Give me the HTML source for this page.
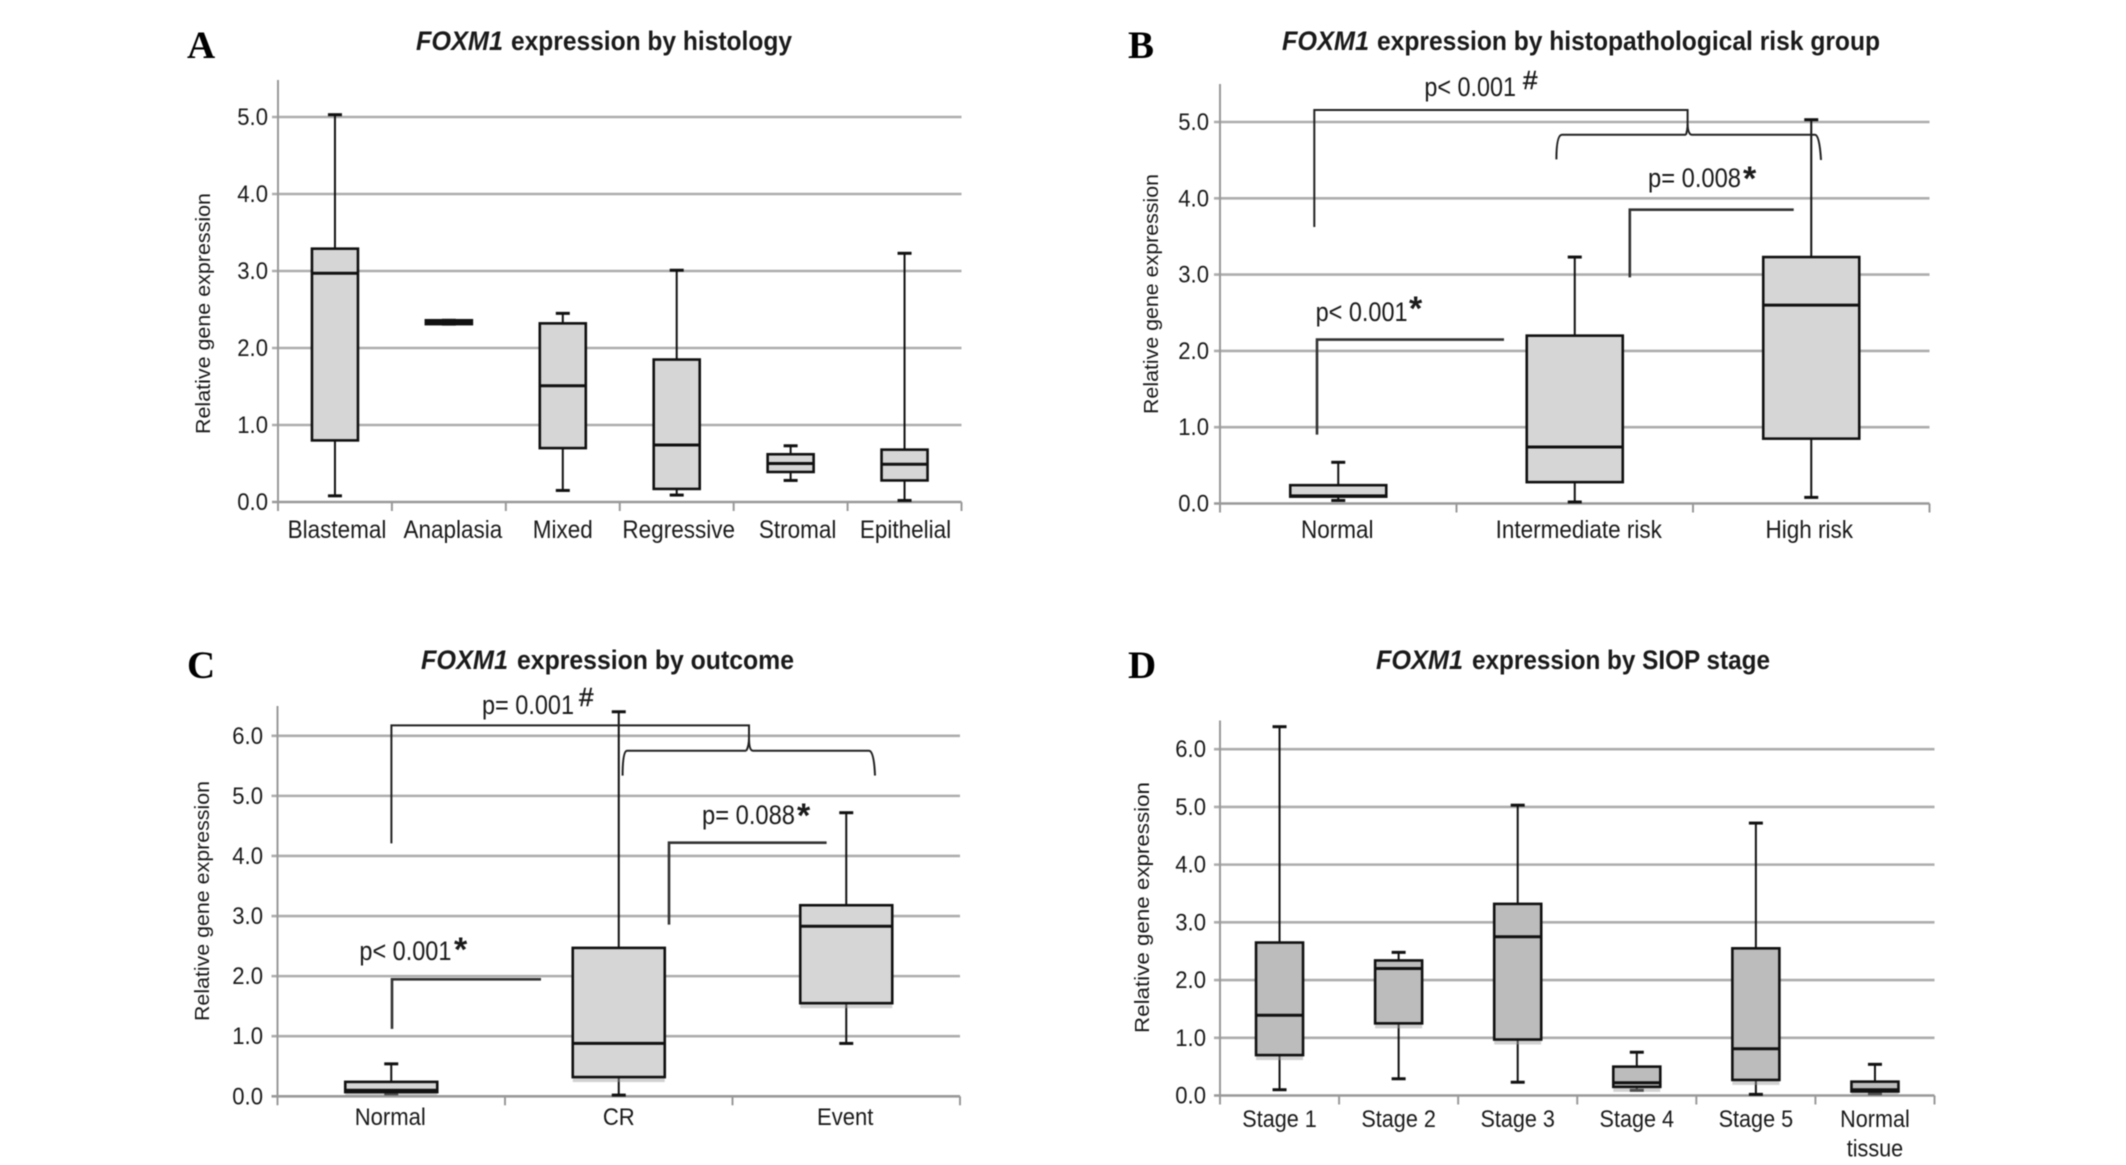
<!DOCTYPE html>
<html lang="en">
<head>
<meta charset="utf-8">
<title>FOXM1 expression box plots</title>
<style>
html,body{margin:0;padding:0;background:#fff;width:2126px;height:1165px;overflow:hidden}
svg{display:block;filter:blur(.45px)}
text{font-family:"Liberation Sans",sans-serif;fill:#1a1a1a}
.letter{font-family:"Liberation Serif",serif;font-weight:bold;font-size:39px;fill:#000}
.title{font-size:27px;font-weight:bold}
.pv{font-size:27px}
.mk{font-size:34px;font-weight:bold}
.hs{font-size:26px;stroke:#1a1a1a;stroke-width:.5}
.br{fill:none;stroke:#222;stroke-width:2}
.brk{fill:none;stroke:#333;stroke-width:2.6}
</style>
</head>
<body>
<svg id="figure" xmlns="http://www.w3.org/2000/svg" width="2126" height="1165" viewBox="0 0 2126 1165">
  <rect width="2126" height="1165" fill="#fff"/>

  <text class="letter" x="187" y="58">A</text>
  <text class="letter" x="1128" y="58">B</text>
  <text class="letter" x="187" y="678">C</text>
  <text class="letter" x="1128" y="678">D</text>

  <text class="title" x="416" y="50" font-style="italic" textLength="87" lengthAdjust="spacingAndGlyphs">FOXM1</text>
  <text class="title" x="511" y="50" textLength="281" lengthAdjust="spacingAndGlyphs">expression by histology</text>
  <text class="title" x="1282" y="50" font-style="italic" textLength="87" lengthAdjust="spacingAndGlyphs">FOXM1</text>
  <text class="title" x="1377" y="50" textLength="503" lengthAdjust="spacingAndGlyphs">expression by histopathological risk group</text>
  <text class="title" x="421" y="669" font-style="italic" textLength="87" lengthAdjust="spacingAndGlyphs">FOXM1</text>
  <text class="title" x="517" y="669" textLength="277" lengthAdjust="spacingAndGlyphs">expression by outcome</text>
  <text class="title" x="1376" y="669" font-style="italic" textLength="87" lengthAdjust="spacingAndGlyphs">FOXM1</text>
  <text class="title" x="1472" y="669" textLength="298" lengthAdjust="spacingAndGlyphs">expression by SIOP stage</text>

  <g id="charts"></g>

  <g transform="translate(-1,0)">
    <path class="br" d="M1315.3 227V110H1688.6V124Q1688.6 130 1687 134.8"/>
    <path class="br" d="M1557.4 159.4Q1557.4 134.8 1563 134.8H1687M1688.6 124Q1689 134.8 1693 134.8H1816Q1820.5 134.8 1822 160"/>
    <path class="brk" d="M1630.8 277.4V209.7H1794.7"/>
    <path class="brk" d="M1318 434.6V339.6H1505"/>
    <text class="pv" x="1425.4" y="96" textLength="91.6" lengthAdjust="spacingAndGlyphs">p&lt; 0.001</text>
    <text class="hs" x="1524" y="89">#</text>
    <text class="pv" x="1649" y="187" textLength="93" lengthAdjust="spacingAndGlyphs">p= 0.008</text>
    <text class="mk" x="1744" y="190">*</text>
    <text class="pv" x="1316.6" y="321" textLength="92" lengthAdjust="spacingAndGlyphs">p&lt; 0.001</text>
    <text class="mk" x="1410" y="320">*</text>
  </g>

  <g transform="translate(-1,0)">
    <path class="br" d="M392.4 843.4V725.4H750V738Q750 746 747.3 750.7"/>
    <path class="br" d="M623.6 775.6Q623.6 750.7 628 750.7H747.3M750 738Q750 750.7 754 750.7H870Q875 750.7 876 775.6"/>
    <path class="brk" d="M670 924.6V842.7H827.6"/>
    <path class="brk" d="M393 1028.9V979.3H542"/>
    <text class="pv" x="483" y="714" textLength="92" lengthAdjust="spacingAndGlyphs">p= 0.001</text>
    <text class="hs" x="580" y="706">#</text>
    <text class="pv" x="703" y="824" textLength="93" lengthAdjust="spacingAndGlyphs">p= 0.088</text>
    <text class="mk" x="798" y="827">*</text>
    <text class="pv" x="360.4" y="960" textLength="92" lengthAdjust="spacingAndGlyphs">p&lt; 0.001</text>
    <text class="mk" x="455" y="961">*</text>
  </g>
</svg>

<script>
/* ---------- Panel A: histology ---------- */
const histologyCategories = ["Blastemal", "Anaplasia", "Mixed", "Regressive", "Stromal", "Epithelial"];
const histologyLow    = [0.08, 2.31, 0.15, 0.09, 0.28, 0.02];
const histologyQ1     = [0.80, 2.31, 0.70, 0.17, 0.39, 0.28];
const histologyMedian = [2.97, 2.33, 1.51, 0.74, 0.50, 0.49];
const histologyQ3     = [3.29, 2.36, 2.32, 1.85, 0.62, 0.68];
const histologyHigh   = [5.03, 2.36, 2.45, 3.01, 0.73, 3.23];

/* ---------- Panel B: risk group ---------- */
const riskCategories = ["Normal", "Intermediate risk", "High risk"];
const riskLow    = [0.04, 0.02, 0.08];
const riskQ1     = [0.09, 0.28, 0.85];
const riskMedian = [0.10, 0.74, 2.60];
const riskQ3     = [0.24, 2.20, 3.23];
const riskHigh   = [0.54, 3.23, 5.03];

/* ---------- Panel C: outcome ---------- */
const outcomeCategories = ["Normal", "CR", "Event"];
const outcomeLow    = [0.04, 0.02, 0.88];
const outcomeQ1     = [0.07, 0.32, 1.55];
const outcomeMedian = [0.10, 0.88, 2.83];
const outcomeQ3     = [0.24, 2.47, 3.18];
const outcomeHigh   = [0.54, 6.40, 4.72];

/* ---------- Panel D: SIOP stage ---------- */
const stageCategories = ["Stage 1", "Stage 2", "Stage 3", "Stage 4", "Stage 5", "Normal|tissue"];
const stageLow    = [0.10, 0.29, 0.23, 0.09, 0.02, 0.03];
const stageQ1     = [0.70, 1.25, 0.97, 0.15, 0.27, 0.07];
const stageMedian = [1.39, 2.20, 2.75, 0.22, 0.81, 0.10];
const stageQ3     = [2.65, 2.34, 3.32, 0.50, 2.55, 0.24];
const stageHigh   = [6.39, 2.48, 5.03, 0.75, 4.72, 0.54];

/* ---------- Shared tick labels ---------- */
const ticksToFive = ["0.0", "1.0", "2.0", "3.0", "4.0", "5.0"];
const ticksToSix  = ["0.0", "1.0", "2.0", "3.0", "4.0", "5.0", "6.0"];

const NS = "http://www.w3.org/2000/svg";
const root = document.getElementById("charts");
const NARROW = 0.9;

function mk(parent, tag, attrs, text) {
  const node = document.createElementNS(NS, tag);
  for (const k in attrs) node.setAttribute(k, attrs[k]);
  if (text !== undefined) node.textContent = text;
  parent.appendChild(node);
  return node;
}

function squeeze(node, factor) {
  const len = node.getComputedTextLength();
  node.setAttribute("textLength", len * factor);
  node.setAttribute("lengthAdjust", "spacingAndGlyphs");
}

function drawPanel(id, cfg, cats, lows, q1s, meds, q3s, highs, ticks) {
  const yMaxValue = parseFloat(ticks[ticks.length - 1]);
  const y = v => cfg.y0 - (v / yMaxValue) * (cfg.y0 - cfg.yMax);
  const slot = (cfg.x1 - cfg.x0) / cats.length;
  const x = i => cfg.x0 + slot * (i + 0.5);

  const g = mk(root, "g", {});
  
  

  ticks.forEach(t => {
    const v = parseFloat(t);
    if (v > 0) {
      const grid = mk(g, "line", {x1: cfg.x0 - 6, x2: cfg.x1, y1: y(v), y2: y(v), stroke: "#adadad", "stroke-width": 2.6});
      
      
    }
    const label = mk(g, "text", {x: cfg.tickX, y: y(v) + 8, "text-anchor": "end", "font-size": 24}, t);
    
    
    squeeze(label, 0.92);
  });

  const yAxis = mk(g, "line", {x1: cfg.x0, x2: cfg.x0, y1: cfg.axisTop, y2: cfg.y0 + 9, stroke: "#999", "stroke-width": 2});
  
  

  const xAxis = mk(g, "line", {x1: cfg.x0 - 6, x2: cfg.x1, y1: cfg.y0, y2: cfg.y0, stroke: "#999", "stroke-width": 2.6});
  
  

  for (let i = 1; i <= cats.length; i++) {
    const tick = mk(g, "line", {x1: cfg.x0 + slot * i, x2: cfg.x0 + slot * i, y1: cfg.y0, y2: cfg.y0 + 9, stroke: "#999", "stroke-width": 2});
    
    
  }

  const yTitle = mk(g, "text", {
    transform: "translate(" + cfg.titleX + "," + cfg.titleMid + ") rotate(-90)",
    "text-anchor": "middle", "font-size": 20, textLength: cfg.titleLen, lengthAdjust: "spacingAndGlyphs"
  }, "Relative gene expression");
  
  

  cats.forEach((cat, i) => {
    const cx = x(i);
    const half = cfg.boxW / 2;
    const box = mk(g, "g", {});
    
    

    const whisker = mk(box, "line", {x1: cx, x2: cx, y1: y(highs[i]), y2: y(lows[i]), stroke: "#111", "stroke-width": 2});
    
    

    const capHigh = mk(box, "line", {x1: cx - 7, x2: cx + 7, y1: y(highs[i]), y2: y(highs[i]), stroke: "#111", "stroke-width": 3});
    
    

    const capLow = mk(box, "line", {x1: cx - 7, x2: cx + 7, y1: y(lows[i]), y2: y(lows[i]), stroke: "#111", "stroke-width": 3});
    
    

    if (cfg.shadow) {
      const shade = mk(box, "rect", {x: cx - half, y: y(q3s[i]) + 5, width: cfg.boxW, height: y(q1s[i]) - y(q3s[i]), fill: "#9a9a9a", opacity: 0.45});
      
      
    }

    const rect = mk(box, "rect", {x: cx - half, y: y(q3s[i]), width: cfg.boxW, height: y(q1s[i]) - y(q3s[i]), fill: cfg.fill, stroke: "#111", "stroke-width": 2.6});
    
    

    const median = mk(box, "line", {x1: cx - half, x2: cx + half, y1: y(meds[i]), y2: y(meds[i]), stroke: "#111", "stroke-width": 3});
    
    

    cat.split("|").forEach((line, k) => {
      const lab = mk(g, "text", {x: cx + (cfg.labelDx ? cfg.labelDx[i] : 0), y: cfg.labelY + k * 29.5, "text-anchor": "middle", "font-size": cfg.labelSize}, line);
      
      
      squeeze(lab, NARROW);
    });
  });
}

drawPanel("a", {x0: 278, x1: 961.5, y0: 502, yMax: 117, axisTop: 80, tickX: 268, titleX: 210, titleMid: 313.5, titleLen: 241, boxW: 46, fill: "#d6d6d6", labelY: 538, labelSize: 25, labelDx: [2, 4, 0, 2, 7, 1]},
  histologyCategories, histologyLow, histologyQ1, histologyMedian, histologyQ3, histologyHigh, ticksToFive);

drawPanel("b", {x0: 1220, x1: 1929.5, y0: 503.5, yMax: 122, axisTop: 84, tickX: 1209, titleX: 1158, titleMid: 294, titleLen: 240, boxW: 96, fill: "#d6d6d6", labelY: 538, labelSize: 25, labelDx: [-1, 4, -2]},
  riskCategories, riskLow, riskQ1, riskMedian, riskQ3, riskHigh, ticksToFive);

drawPanel("c", {x0: 277.5, x1: 960, y0: 1096.3, yMax: 735.8, axisTop: 706, tickX: 263, titleX: 209, titleMid: 901, titleLen: 240, boxW: 92, fill: "#d6d6d6", labelY: 1125, labelSize: 24.5, labelDx: [-1, 0, -1], shadow: true},
  outcomeCategories, outcomeLow, outcomeQ1, outcomeMedian, outcomeQ3, outcomeHigh, ticksToSix);

drawPanel("d", {x0: 1220, x1: 1934.5, y0: 1095.5, yMax: 749.2, axisTop: 720.5, tickX: 1206, titleX: 1149, titleMid: 907.5, titleLen: 251, boxW: 47, fill: "#bcbcbc", labelY: 1127, labelSize: 24, shadow: true},
  stageCategories, stageLow, stageQ1, stageMedian, stageQ3, stageHigh, ticksToSix);
</script>
</body>
</html>
